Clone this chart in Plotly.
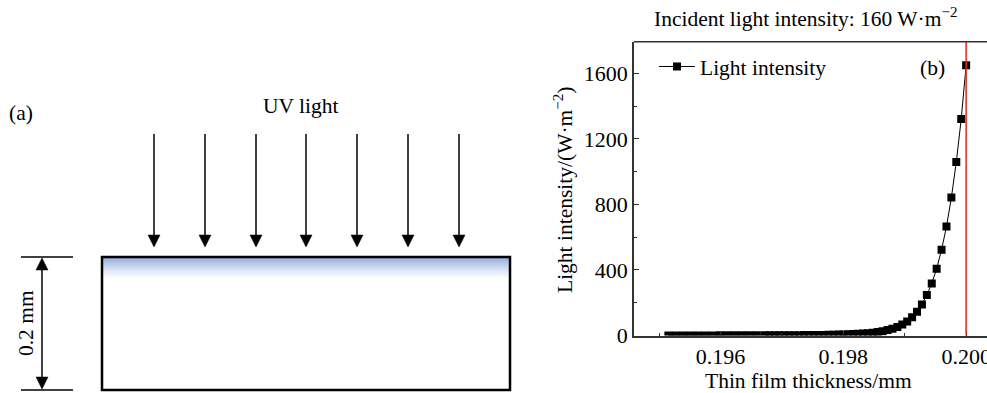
import plotly.graph_objects as go

# ---------------- data ----------------
thickness_mm = [
    0.19515, 0.19527, 0.19539, 0.19551, 0.19563, 0.19575, 0.19587, 0.19599,
    0.19611, 0.19623, 0.19635, 0.19647, 0.19659,
    0.19672, 0.19680, 0.19688, 0.19696, 0.19704, 0.19712, 0.19720, 0.19728,
    0.19736, 0.19744, 0.19752, 0.19760, 0.19768, 0.19776, 0.19784, 0.19792,
    0.19800, 0.19808, 0.19816, 0.19824, 0.19832, 0.19840, 0.19848, 0.19856,
    0.19864, 0.19872, 0.19880, 0.19888, 0.19896, 0.19904, 0.19912, 0.19920,
    0.19928, 0.19936, 0.19944, 0.19952, 0.19960, 0.19968, 0.19976, 0.19984,
    0.19992, 0.20000,
]
light_intensity = [
    0.5, 0.55, 0.6, 0.62, 0.65, 0.7, 0.75, 0.8, 0.85, 0.9, 0.95, 1.0, 1.1,
    1.2, 1.3, 1.4, 1.5, 1.6, 1.7, 1.9, 2.1, 2.3, 2.6, 2.9, 3.2, 3.6, 4.1,
    4.7, 5.4, 6.2, 7.2, 8.5, 10, 12, 14.5, 17.5, 21.5, 26.5, 33, 41, 52,
    67, 86, 112, 145, 190, 247, 318, 408, 524, 665, 842, 1060, 1322, 1650,
]
series_name = "Light intensity"
x_ticks = [0.196, 0.198, 0.200]
y_ticks = [0, 400, 800, 1200, 1600]
surface_mm = 0.200

W, H = 987, 393
FONT = "Liberation Serif"
FS = 21.5


def X(px):
    return px / W


def Y(py):
    return 1 - py / H


fig = go.Figure()
fig.add_trace(go.Scatter(
    x=thickness_mm, y=light_intensity, mode="lines+markers", name=series_name,
    line=dict(color="black", width=1),
    marker=dict(symbol="square", size=8, color="black"),
))

shapes = []
annotations = []

# red surface line
shapes.append(dict(type="line", xref="x", yref="y domain", x0=surface_mm, x1=surface_mm,
                   y0=0, y1=1, line=dict(color="#ff1a1a", width=1.5)))
# top frame
shapes.append(dict(type="line", xref="x domain", yref="y domain", x0=0, x1=1, y0=1, y1=1,
                   line=dict(color="#333", width=1.5)))

# ---------- panel (a) schematic ----------
rx0, rx1, ry0, ry1 = 102, 510, 257, 390
grad_cols = ["#98aedb", "#a3b7e0", "#aec0e4", "#b9c9e8", "#c4d2ed", "#cfdbf1",
             "#dae3f5", "#e4eaf8", "#edf1fb", "#f6f8fd"]
for i, c in enumerate(grad_cols):
    shapes.append(dict(type="rect", xref="paper", yref="paper",
                       x0=X(rx0), x1=X(rx1), y0=Y(ry0 + 2 * i), y1=Y(ry0 + 2 * i + 2.2),
                       line=dict(width=0), fillcolor=c, layer="below"))
shapes.append(dict(type="rect", xref="paper", yref="paper",
                   x0=X(rx0), x1=X(rx1), y0=Y(ry1), y1=Y(ry0),
                   line=dict(color="black", width=2.5)))


def arrow_down(px, top, tip, head=12, hw=6):
    shapes.append(dict(type="line", xref="paper", yref="paper", x0=X(px), x1=X(px),
                       y0=Y(top), y1=Y(tip - head + 2), line=dict(color="black", width=1.5)))
    shapes.append(dict(type="path", xref="paper", yref="paper",
                       path=f"M {X(px - hw)},{Y(tip - head)} L {X(px + hw)},{Y(tip - head)} L {X(px)},{Y(tip)} Z",
                       fillcolor="black", line=dict(color="black", width=0.5)))


def arrow_up(px, tip, head=12, hw=6):
    shapes.append(dict(type="path", xref="paper", yref="paper",
                       path=f"M {X(px - hw)},{Y(tip + head)} L {X(px + hw)},{Y(tip + head)} L {X(px)},{Y(tip)} Z",
                       fillcolor="black", line=dict(color="black", width=0.5)))


for px in [154, 205, 256, 306, 357, 408, 459]:
    arrow_down(px, 134, 247)

# dimension
for py in [257, 390]:
    shapes.append(dict(type="line", xref="paper", yref="paper", x0=X(21), x1=X(73),
                       y0=Y(py), y1=Y(py), line=dict(color="black", width=1.5)))
shapes.append(dict(type="line", xref="paper", yref="paper", x0=X(42), x1=X(42),
                   y0=Y(268), y1=Y(379), line=dict(color="black", width=1.5)))
arrow_up(42, 258)
arrow_down(42, 380, 389)


def text(px, py, s, size=FS, angle=0):
    annotations.append(dict(xref="paper", yref="paper", x=X(px), y=Y(py), text=s,
                            showarrow=False, xanchor="center", yanchor="middle",
                            textangle=angle, font=dict(family=FONT, size=size, color="black")))


text(300, 106, "UV light")
text(21, 113, "(a)")
text(26, 323, "0.2 mm", angle=-90)

# ---------- panel (b) labels ----------
text(805, 18, "Incident light intensity: 160 W·m<sup>−2</sup>")
text(808, 381, "Thin film thickness/mm")
text(563, 190, "Light intensity/(W·m<sup>−2</sup>)", angle=-90)
text(932, 68, "(b)")

axis_font = dict(family=FONT, size=22, color="black")
fig.update_layout(
    width=W, height=H,
    margin=dict(l=0, r=0, t=0, b=0),
    paper_bgcolor="white", plot_bgcolor="white",
    font=dict(family=FONT, size=FS, color="black"),
    showlegend=True,
    legend=dict(x=X(654), y=Y(46), xanchor="left", yanchor="top", itemwidth=36,
                bgcolor="rgba(0,0,0,0)", font=dict(family=FONT, size=FS)),
    xaxis=dict(domain=[X(634), 1], range=[0.19459, 0.20034],
               tickvals=x_ticks, ticktext=[f"{v:.3f}" for v in x_ticks],
               ticks="inside", ticklen=5, tickwidth=1.2, tickcolor="#333",
               ticklabeloverflow="allow", automargin=False,
               minor=dict(dtick=0.001, tick0=0.196, ticks="inside", ticklen=3, tickcolor="#333"),
               showline=True, linecolor="#333", linewidth=1.5, mirror=False,
               showgrid=False, zeroline=False, tickfont=axis_font),
    yaxis=dict(domain=[Y(335.5), Y(41.7)], range=[0, 1794],
               tickvals=y_ticks, ticks="inside", ticklen=5, tickwidth=1.2, tickcolor="#333",
               automargin=False,
               minor=dict(dtick=200, tick0=0, ticks="inside", ticklen=3, tickcolor="#333"),
               showline=True, linecolor="#333", linewidth=1.5, mirror=False,
               showgrid=False, zeroline=False, tickfont=axis_font),
    shapes=shapes,
    annotations=annotations,
)

fig.write_html("out.html", config={"displayModeBar": False},
               post_script="document.body.style.margin='0px';")
